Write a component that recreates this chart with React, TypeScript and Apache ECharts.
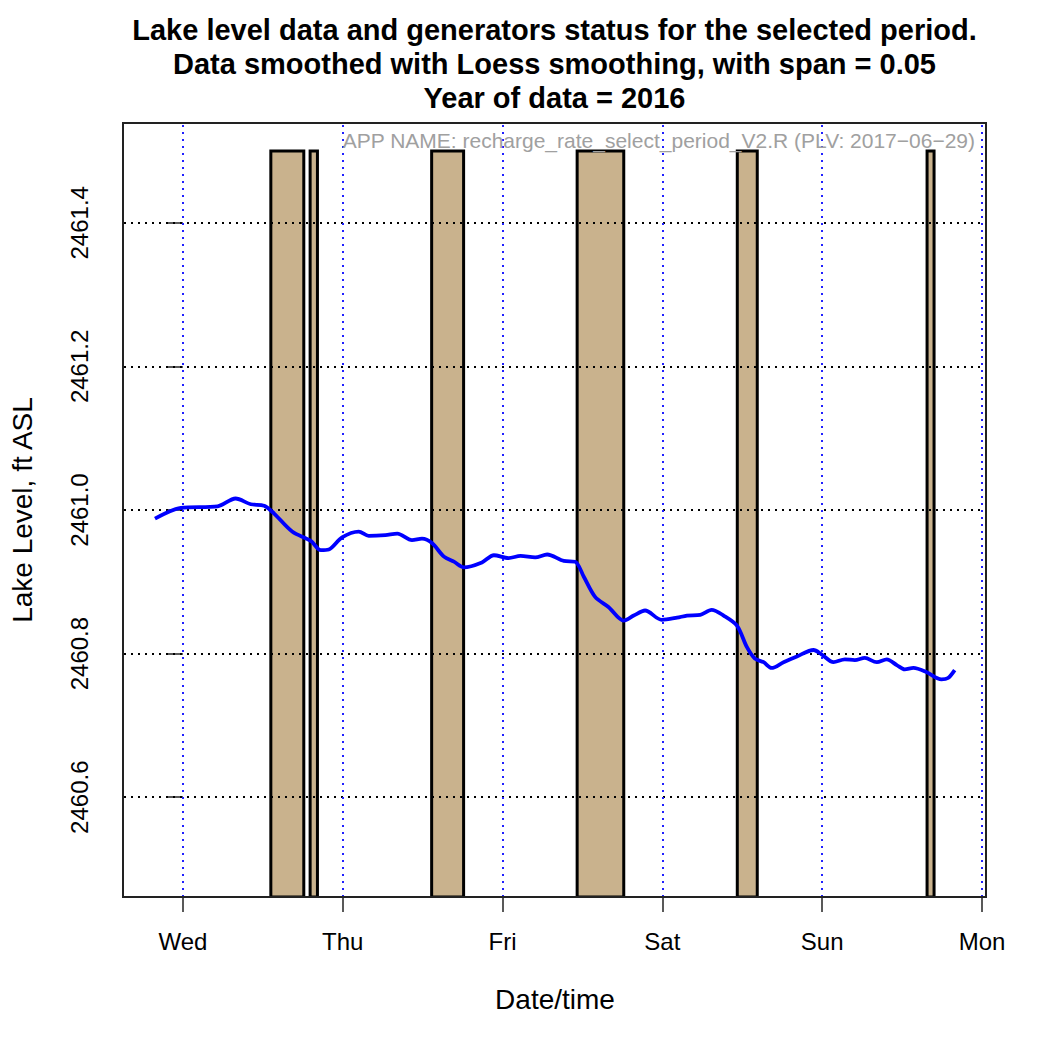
import React, { useEffect, useRef } from "react";
import * as echarts from "echarts";

// Hours since Wednesday 00:00
const dayTicks = [0, 24, 48, 72, 96, 120];
const dayLabels = ["Wed", "Thu", "Fri", "Sat", "Sun", "Mon"];
const levelTicks = [2460.6, 2460.8, 2461.0, 2461.2, 2461.4];

const lineHours = [
  -4.2, -0.3, 5.2, 7.9, 10.2, 12.2, 13.7, 16.4, 19.2, 20.7, 21.9, 23.9, 26.4,
  27.9, 30.4, 32.2, 34.4, 35.9, 37.4, 39.2, 40.7, 42.2, 44.9, 46.7, 48.9, 50.7,
  52.9, 54.7, 57.2, 58.9, 60.2, 61.9, 63.9, 66.2, 67.7, 69.4, 71.9, 74.2, 75.7,
  77.7, 79.4, 81.2, 83.2, 84.7, 85.9, 87.2, 88.4, 90.2, 92.2, 94.7, 95.9, 97.7,
  99.4, 100.9, 102.4, 104.2, 105.7, 107.2, 108.4, 109.7, 111.7, 113.9, 114.9,
  115.9,
];
const lakeLevel = [
  2460.988, 2461.003, 2461.005, 2461.016, 2461.008, 2461.006, 2460.995,
  2460.97, 2460.957, 2460.944, 2460.945, 2460.962, 2460.97, 2460.964, 2460.965,
  2460.967, 2460.958, 2460.96, 2460.954, 2460.935, 2460.928, 2460.92, 2460.927,
  2460.937, 2460.933, 2460.936, 2460.934, 2460.938, 2460.929, 2460.928,
  2460.907, 2460.879, 2460.865, 2460.846, 2460.853, 2460.86, 2460.847, 2460.85,
  2460.853, 2460.854, 2460.861, 2460.853, 2460.839, 2460.809, 2460.793,
  2460.788, 2460.78, 2460.788, 2460.796, 2460.805, 2460.799, 2460.788,
  2460.792, 2460.791, 2460.794, 2460.788, 2460.792, 2460.784, 2460.778,
  2460.78, 2460.774, 2460.764, 2460.766, 2460.777,
];

// Generator "on" periods (hours since Wednesday 00:00)
const genStart = [13.2, 19.1, 37.35, 59.2, 83.25, 111.75];
const genEnd = [18.15, 20.2, 42.15, 66.2, 86.25, 112.8];
const genTop = 2461.5;

const X_MIN = -8.85;
const X_MAX = 120.6;
const Y_MIN = 2460.461;
const Y_MAX = 2461.539;

const FONT = "Liberation Sans, Arial, Helvetica, sans-serif";

const titleLines = [
  "Lake level data and generators status for the selected period.",
  "Data smoothed with Loess smoothing, with span = 0.05",
  "Year of data = 2016",
];

export default function App() {
  const ref = useRef<HTMLDivElement>(null);
  useEffect(() => {
    document.body.style.margin = "0";
    const chart = echarts.init(ref.current!, null, { renderer: "svg" });
    const grid = { left: 123, top: 123, width: 863, height: 774 };
    const option: any = {
      animation: false,
      backgroundColor: "#ffffff",
      grid: { ...grid, show: false, containLabel: false },
      graphic: [
        ...titleLines.map((t, i) => ({
          type: "text",
          x: 554.5,
          y: 30 + i * 34,
          style: {
            text: t,
            align: "center",
            verticalAlign: "middle",
            textAlign: "center",
            textVerticalAlign: "middle",
            fontSize: 29,
            fontWeight: "bold",
            fontFamily: FONT,
            fill: "#000",
          },
        })),
        {
          type: "text",
          x: 975,
          y: 140,
          z: 120,
          style: {
            text: "APP NAME: recharge_rate_select_period_V2.R (PLV: 2017\u221206\u221229)",
            align: "right",
            verticalAlign: "middle",
            textAlign: "right",
            textVerticalAlign: "middle",
            fontSize: 21,
            fontFamily: FONT,
            fill: "#a0a0a0",
          },
        },
        {
          type: "rect",
          z: 100,
          silent: true,
          shape: { x: grid.left, y: grid.top, width: grid.width, height: grid.height },
          style: { fill: "none", stroke: "#222", lineWidth: 2 },
        },
      ],
      xAxis: {
        type: "value",
        min: X_MIN,
        max: X_MAX,
        name: "Date/time",
        nameLocation: "middle",
        nameGap: 88,
        nameTextStyle: { fontSize: 28, fontFamily: FONT, color: "#000" },
        axisLine: { show: false },
        axisTick: {
          show: true,
          customValues: dayTicks,
          length: 15,
          inside: false,
          lineStyle: { color: "#222", width: 1.5 },
        },
        axisLabel: {
          customValues: dayTicks,
          margin: 32,
          fontSize: 24,
          fontFamily: FONT,
          color: "#000",
          formatter: (v: number) => dayLabels[dayTicks.indexOf(Math.round(v))] ?? "",
        },
        splitLine: { show: false },
      },
      yAxis: {
        type: "value",
        min: Y_MIN,
        max: Y_MAX,
        name: "Lake Level, ft ASL",
        nameLocation: "middle",
        nameGap: 88,
        nameRotate: 90,
        nameTextStyle: { fontSize: 28, fontFamily: FONT, color: "#000" },
        axisLine: { show: false },
        axisTick: {
          show: true,
          customValues: levelTicks,
          length: 15,
          inside: false,
          lineStyle: { color: "#222", width: 1.5 },
        },
        axisLabel: {
          customValues: levelTicks,
          rotate: 90,
          margin: 33,
          fontSize: 24,
          fontFamily: FONT,
          color: "#000",
          formatter: (v: number) => v.toFixed(1),
        },
        splitLine: { show: false },
      },
      series: [
        {
          type: "line",
          name: "gridlines",
          data: [],
          z: 1,
          silent: true,
          markLine: {
            silent: true,
            symbol: "none",
            animation: false,
            label: { show: false },
            data: [
              ...levelTicks.map((v) => ({
                yAxis: v,
                lineStyle: { color: "#000", width: 2, type: [2, 5] },
              })),
              ...dayTicks.map((d) => ({
                xAxis: d,
                lineStyle: { color: "#2020ff", width: 2, type: [2, 5] },
              })),
            ],
          },
        },
        {
          type: "custom",
          name: "Generators",
          z: 3,
          clip: true,
          data: genStart.map((s, i) => [s, genEnd[i]]),
          renderItem: (params: any, api: any) => {
            const p1 = api.coord([api.value(0), genTop]);
            const p2 = api.coord([api.value(1), Y_MIN]);
            return {
              type: "rect",
              shape: { x: p1[0], y: p1[1], width: p2[0] - p1[0], height: p2[1] - p1[1] },
              style: { fill: "#c9b28d", stroke: "#000", lineWidth: 3 },
            };
          },
          encode: { x: [0, 1] },
        },
        {
          type: "line",
          name: "bottom",
          data: [],
          z: 4,
          silent: true,
          markLine: {
            silent: true,
            symbol: "none",
            animation: false,
            label: { show: false },
            data: [{ yAxis: Y_MIN, lineStyle: { color: "#2020ff", width: 2, type: [2, 5] } }],
          },
        },
        {
          type: "line",
          name: "Lake level",
          z: 5,
          smooth: 0.3,
          symbol: "none",
          lineStyle: { color: "#0000ff", width: 3.8 },
          data: lineHours.map((h, i) => [h, lakeLevel[i]]),
        },
      ],
    };
    chart.setOption(option);
    return () => chart.dispose();
  }, []);
  return (
    <div
      ref={ref}
      style={{ position: "absolute", left: 0, top: 0, width: 1050, height: 1050 }}
    />
  );
}
